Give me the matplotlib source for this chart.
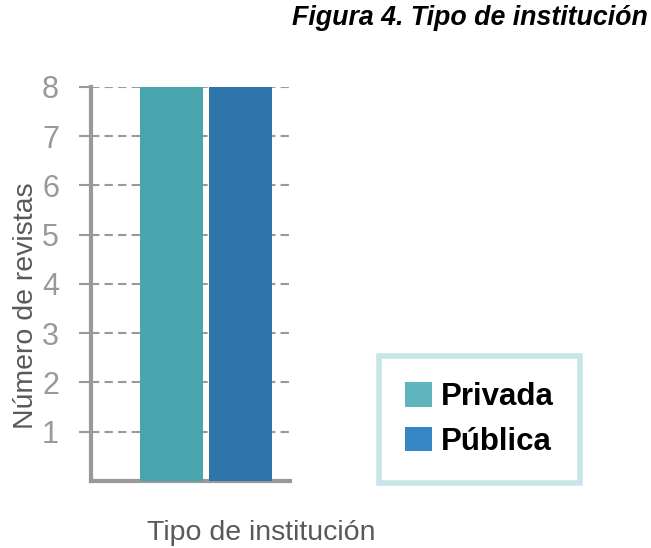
import matplotlib
matplotlib.use("Agg")
import matplotlib.pyplot as plt
from matplotlib.patches import Patch

plt.rcParams['font.family'] = ['Liberation Sans', 'DejaVu Sans']

categories = ['Privada', 'Pública']
values = [8, 8]
yticks = [1, 2, 3, 4, 5, 6, 7, 8]

bar_colors = ['#48A5AE', '#2E75AB']
legend_colors = ['#5FB5BE', '#3686C6']
grey = '#999999'

fig = plt.figure(figsize=(6.51, 5.48), dpi=100)
ax = fig.add_axes([0.1398, 0.1223, 0.3057, 0.719])

xpos = [0, 1]
ax.bar(xpos, values, width=0.913, color=bar_colors, zorder=3)
ax.set_xlim(-1.167, 1.717)
ax.set_ylim(0, 8)

ax.set_yticks(yticks)
ax.set_yticklabels([str(t) for t in yticks], fontsize=22, color=grey)
ax.set_xticks([])
ax.yaxis.grid(True, linestyle=(0, (4, 2.5)), color=grey, linewidth=1.5, zorder=0)
ax.tick_params(axis='y', direction='out', length=9, width=1.5, color=grey, pad=14)

for s in ['top', 'right']:
    ax.spines[s].set_visible(False)
for s in ['left', 'bottom']:
    ax.spines[s].set_color(grey)
    ax.spines[s].set_linewidth(3)

fig.text(0.040, 0.442, 'Número de revistas', fontsize=20.5, color='#595959',
         rotation=90, ha='center', va='center')
fig.text(0.402, 0.027, 'Tipo de institución', fontsize=20.5, color='#595959',
         ha='center', va='center')

fig.text(0.995, 0.967, 'Figura 4. Tipo de institución', fontsize=19.3,
         fontweight='bold', fontstyle='italic', ha='right', va='center')

handles = [Patch(facecolor=c) for c in legend_colors]
leg = fig.legend(handles, categories, loc='center', bbox_to_anchor=(0.7366, 0.2345),
                 prop={'size': 22.5, 'weight': 'bold'}, fancybox=False,
                 handlelength=0.85, handleheight=0.85, handletextpad=0.3,
                 borderpad=0.85, labelspacing=0.45, borderaxespad=0)
leg.get_frame().set_edgecolor('#B9E0E4')
leg.get_frame().set_linewidth(4)

fig.savefig('out.png', dpi=100)
